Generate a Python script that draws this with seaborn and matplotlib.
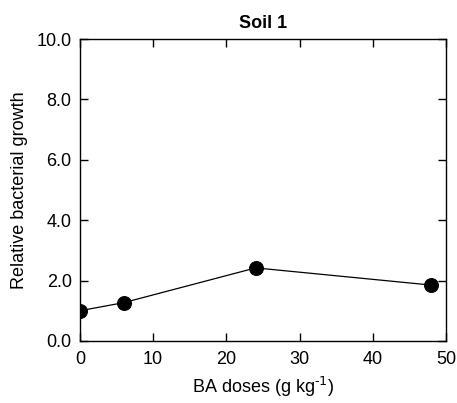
import pandas as pd
import seaborn as sns
import matplotlib.pyplot as plt

doses = [0, 6, 24, 48]
growth = [1.0, 1.27, 2.42, 1.85]

sns.set_style("ticks")
plt.rcParams['font.family'] = ['Liberation Sans', 'DejaVu Sans']
plt.rcParams['mathtext.default'] = 'regular'
plt.rcParams['text.color'] = 'black'
plt.rcParams['axes.labelcolor'] = 'black'

df = pd.DataFrame({"dose": doses, "growth": growth})

fig = plt.figure(figsize=(4.57, 4.03), dpi=100)
ax = fig.add_axes([0.175, 0.154, 0.801, 0.749])
sns.lineplot(data=df, x="dose", y="growth", ax=ax, color="black", linewidth=0.9,
             marker="o", markersize=10, markeredgecolor="black", markerfacecolor="black")

ax.set_xlim(0, 50)
ax.set_ylim(0, 10)
ax.set_xticks([0, 10, 20, 30, 40, 50])
ax.set_yticks([0, 2, 4, 6, 8, 10])
ax.set_yticklabels([f"{v:.1f}" for v in [0, 2, 4, 6, 8, 10]])
ax.tick_params(direction="in", length=6, width=1, top=True, right=True, labelsize=13, colors="black")
ax.tick_params(axis="x", pad=7)
ax.tick_params(axis="y", pad=6)
for s in ax.spines.values():
    s.set_linewidth(1)
    s.set_color("black")
ax.set_xlabel("BA doses (g kg$^{\\text{-1}}$)", fontsize=13, labelpad=5)
ax.set_ylabel("Relative bacterial growth", fontsize=13, labelpad=6)
ax.set_title("Soil 1", fontsize=13, fontweight="bold", pad=8)

fig.savefig("out.png", dpi=100)
